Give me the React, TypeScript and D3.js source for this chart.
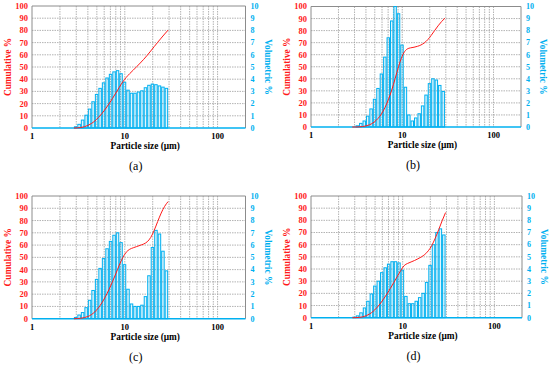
import React from "react";
import * as d3 from "d3";

// bin edges of the size classes (µm)
const binEdges = [2.83, 3.08, 3.36, 3.67, 4.0, 4.36, 4.76, 5.19, 5.66, 6.17, 6.73, 7.34, 8.0, 8.72, 9.51, 10.37, 11.31, 12.34, 13.45, 14.67, 16.0, 17.45, 19.03, 20.75, 22.63, 24.68, 26.91, 29.34];

// volumetric % per size class
const volumeA = [0.1, 0.3, 0.65, 1.05, 1.55, 2.15, 2.75, 3.25, 3.7, 4.1, 4.4, 4.6, 4.7, 4.45, 3.75, 3.1, 2.85, 2.85, 2.95, 3.05, 3.3, 3.5, 3.6, 3.55, 3.45, 3.35, 3.25];
const volumeB = [0, 0.1, 0.3, 0.5, 0.9, 1.5, 2.3, 3.2, 4.4, 5.8, 7.4, 8.8, 10, 9.4, 6.8, 3.3, 1.0, 0.5, 0.75, 1.1, 1.75, 2.65, 3.6, 4.0, 3.9, 3.45, 2.95];
const volumeC = [0.1, 0.3, 0.5, 0.9, 1.5, 2.3, 3.2, 4.1, 4.9, 5.7, 6.3, 6.8, 7.0, 6.2, 4.4, 2.4, 1.2, 1.0, 1.0, 1.1, 1.8, 3.5, 5.8, 7.2, 6.9, 5.5, 3.9];
const volumeD = [0.05, 0.15, 0.4, 0.8, 1.35, 1.95, 2.6, 3.0, 3.7, 4.1, 4.4, 4.6, 4.6, 4.5, 3.9, 1.75, 1.15, 1.15, 1.35, 1.65, 2.0, 2.9, 4.3, 6.0, 7.0, 7.3, 6.8];

// cumulative % read at each bin edge
const cumulA = [0, 0.1, 0.4, 1.05, 2.1, 3.65, 5.8, 8.55, 11.8, 15.5, 19.6, 24, 28.6, 33.3, 37.75, 41.5, 44.6, 47.45, 50.3, 53.25, 56.3, 59.6, 63.1, 66.7, 70.25, 73.7, 77.05, 80.3];
const cumulB = [0, 0, 0.1, 0.4, 0.9, 1.8, 3.3, 5.6, 8.8, 13.2, 19, 26.4, 35.2, 45.2, 54.6, 61.4, 64.7, 65.7, 66.2, 66.95, 68.05, 69.8, 72.45, 76.05, 80.05, 83.95, 87.4, 90.35];
const cumulC = [0, 0.1, 0.4, 0.9, 1.8, 3.3, 5.6, 8.8, 12.9, 17.8, 23.5, 29.8, 36.6, 43.6, 49.8, 54.2, 56.6, 57.8, 58.8, 59.8, 60.9, 62.7, 66.2, 72, 79.2, 86.1, 91.6, 95.5];
const cumulD = [0, 0.05, 0.25, 0.7, 1.6, 3.1, 5.2, 8.0, 11.3, 15.2, 19.5, 24.1, 28.9, 33.8, 38.7, 42.8, 44.6, 45.8, 47.0, 48.4, 50.0, 52.0, 55.0, 59.3, 65.3, 72.3, 79.6, 86.4];

const leftTicks = [0, 10, 20, 30, 40, 50, 60, 70, 80, 90, 100];
const rightTicks = [0, 1, 2, 3, 4, 5, 6, 7, 8, 9, 10];
const xTickLabels = [1, 10, 100];
const xGrid = [2, 3, 4, 5, 6, 7, 8, 9, 10, 20, 30, 40, 50, 60, 70, 80, 90, 100];
const captions = ["(a)", "(b)", "(c)", "(d)"];

const RED = "#ff1a1a";
const BLUE = "#00b0f0";
const FONT = "'Liberation Serif', 'Times New Roman', serif";

function Panel({ left, top, width, height, volume, cumul, caption }) {
  const right = left + width;
  const bottom = top + height;
  const x = d3.scaleLog().domain([1, 200]).range([left, right]);
  const yL = d3.scaleLinear().domain([0, 100]).range([bottom, top]);
  const yR = d3.scaleLinear().domain([0, 10]).range([bottom, top]);

  const pts = binEdges.map((e, i) => [e, cumul[i]]);
  const line = d3.line().x(d => x(d[0])).y(d => yL(d[1])).curve(d3.curveMonotoneX);

  const cx = (left + right) / 2;

  return (
    <g>
      {/* grid */}
      {leftTicks.slice(1, -1).map(t => (
        <line key={"h" + t} x1={left} x2={right} y1={yL(t)} y2={yL(t)} stroke="#a0a0a0" strokeWidth={0.8} strokeDasharray="1.5,1" />
      ))}
      {xGrid.map(t => (
        <line key={"v" + t} x1={x(t)} x2={x(t)} y1={top} y2={bottom} stroke="#a0a0a0" strokeWidth={0.8} strokeDasharray="1.5,1" />
      ))}
      {/* border */}
      <line x1={left} x2={right} y1={top} y2={top} stroke="#8c8c8c" strokeWidth={1} />
      <line x1={left} x2={left} y1={top} y2={bottom} stroke="#8c8c8c" strokeWidth={1} />
      <line x1={right} x2={right} y1={top} y2={bottom} stroke="#8c8c8c" strokeWidth={1} />

      {/* bars */}
      {volume.map((v, i) => {
        const x0 = x(binEdges[i]);
        const x1 = x(binEdges[i + 1]);
        if (v <= 0) return null;
        return (
          <rect key={"b" + i} x={x0 + 0.5} width={Math.max(0.5, x1 - x0 - 1)} y={yR(v)} height={bottom - yR(v)}
            fill="rgba(0,176,240,0.12)" stroke={BLUE} strokeWidth={1} />
        );
      })}
      <line x1={left} x2={right} y1={bottom} y2={bottom} stroke={BLUE} strokeWidth={1.5} />

      {/* cumulative */}
      <path d={line(pts)} fill="none" stroke={RED} strokeWidth={1} />

      {/* axes labels */}
      {leftTicks.map(t => (
        <text key={"l" + t} x={left - 4} y={yL(t)} dy="0.35em" textAnchor="end" fill={RED}
          fontFamily={FONT} fontWeight="bold" fontSize={8.5}>{t}</text>
      ))}
      {rightTicks.map(t => (
        <text key={"r" + t} x={right + 5} y={yR(t)} dy="0.35em" textAnchor="start" fill={BLUE}
          fontFamily={FONT} fontWeight="bold" fontSize={8}>{t}</text>
      ))}
      {xTickLabels.map(t => (
        <text key={"x" + t} x={x(t)} y={bottom + 11} textAnchor="middle" fill="#000"
          fontFamily={FONT} fontWeight="bold" fontSize={8.5}>{t}</text>
      ))}
      <text x={cx + 6.5} y={bottom + 21} textAnchor="middle" fontFamily={FONT} fontWeight="bold" fontSize={9.3} fill="#000">
        Particle size (µm)
      </text>
      <text transform={`translate(${left - 21},${(top + bottom) / 2}) rotate(-90)`} textAnchor="middle"
        fontFamily={FONT} fontWeight="bold" fontSize={9.3} fill={RED}>Cumulative %</text>
      <text transform={`translate(${right + 19},${(top + bottom) / 2}) rotate(90)`} textAnchor="middle"
        fontFamily={FONT} fontWeight="bold" fontSize={9.3} fill={BLUE}>Volumetric %</text>

      <text x={cx - 3} y={bottom + 42} textAnchor="middle" fontFamily={FONT} fontSize={12} fill="#000">{caption}</text>
    </g>
  );
}

export default function App() {
  return (
    <svg width={550} height={365} style={{ position: "absolute", left: 0, top: 0, background: "#fff" }}>
      <Panel left={32} top={6} width={213.5} height={122} volume={volumeA} cumul={cumulA} caption={captions[0]} />
      <Panel left={311} top={6.5} width={210} height={120.5} volume={volumeB} cumul={cumulB} caption={captions[1]} />
      <Panel left={32} top={196} width={213.5} height={122.7} volume={volumeC} cumul={cumulC} caption={captions[2]} />
      <Panel left={311} top={196} width={211} height={121.7} volume={volumeD} cumul={cumulD} caption={captions[3]} />
    </svg>
  );
}
